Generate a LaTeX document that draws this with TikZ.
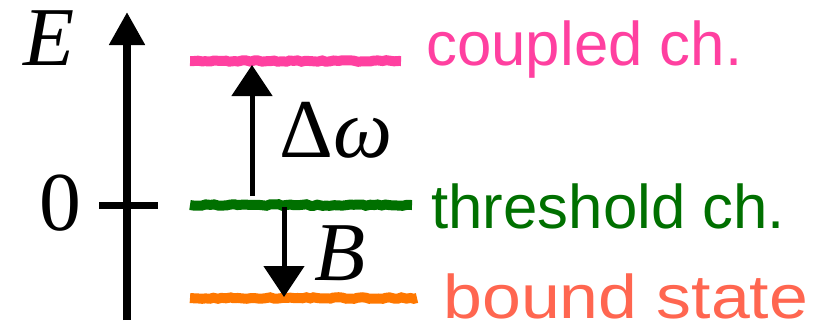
\documentclass[tikz,border=0pt]{standalone}
\usepackage{fontspec}
\newfontfamily\chanfont{Liberation Sans}
\newfontfamily\serfont{Liberation Serif}
\usetikzlibrary{arrows.meta,decorations.pathmorphing}

\definecolor{coupledpink}{RGB}{255,64,160}
\definecolor{threshgreen}{RGB}{0,112,0}
\definecolor{boundorange}{RGB}{255,120,0}
\definecolor{boundtext}{RGB}{255,102,80}

\begin{document}
\begin{tikzpicture}[x=0.5bp,y=-0.5bp]
%----------estilos---------
\tikzset{
nivel/.style={line width=5bp,decorate,decoration={random steps,segment length=2bp,amplitude=0.4bp}},
salto/.style={line width=2.5bp,-{Triangle[length=15.5bp,width=20bp]}},
canal/.style={anchor=base west,inner sep=0pt,font=\chanfont\fontsize{31}{36}\selectfont},
simbolo/.style={anchor=base west,font=\serfont\fontsize{42}{48}\selectfont,inner sep=0pt}
}
\useasboundingbox (0,0) rectangle (828,329);

%----------eje de energia---------
\coordinate (ejeabajo) at (127,320);
\coordinate (ejearriba) at (127,12);
\coordinate (marcaizq) at (99,205);
\coordinate (marcader) at (158,205);
\draw [line width=4bp,-{Triangle[length=16.5bp,width=17bp]}] (ejeabajo)--(ejearriba);
\draw [line width=3.5bp] (marcaizq)--(marcader);
\node [anchor=base,font=\serfont\fontsize{42}{48}\selectfont,inner sep=0pt] (letraE) at (49,65) {\itshape E};
\node [anchor=base,font=\serfont\fontsize{42}{48}\selectfont,inner sep=0pt] (cero) at (60,230) {0};

%----------niveles---------
\coordinate (acopizq) at (190,61);
\coordinate (acopder) at (401,61);
\coordinate (umbralizq) at (190,205);
\coordinate (umbralder) at (412,205);
\coordinate (ligizq) at (190,298);
\coordinate (ligder) at (417,298);
\draw [nivel,coupledpink] (acopizq)--(acopder);
\draw [nivel,threshgreen] (umbralizq)--(umbralder);
\draw [nivel,boundorange] (ligizq)--(ligder);

% etiquetas de canales
\node [canal,text=coupledpink] (tcoupled) at (426,65) {coupled ch.};
\node [canal,text=threshgreen] (tthresh) at (431,228) {threshold ch.};
\node [canal,text=boundtext] (tbound) at (443,318) {\scalebox{1.13}[1]{bound state}};

%----------saltos---------
\coordinate (subeini) at (252,196);
\coordinate (subefin) at (252,65);
\coordinate (bajaini) at (284,207);
\coordinate (bajafin) at (284,297);
\draw [salto] (subeini)--(subefin);
\draw [salto] (bajaini)--(bajafin);
\node [simbolo] (domega) at (279,157) {Δ\itshape ω};
\node [simbolo] (energiaB) at (314,280) {\itshape B};
\end{tikzpicture}
\end{document}
